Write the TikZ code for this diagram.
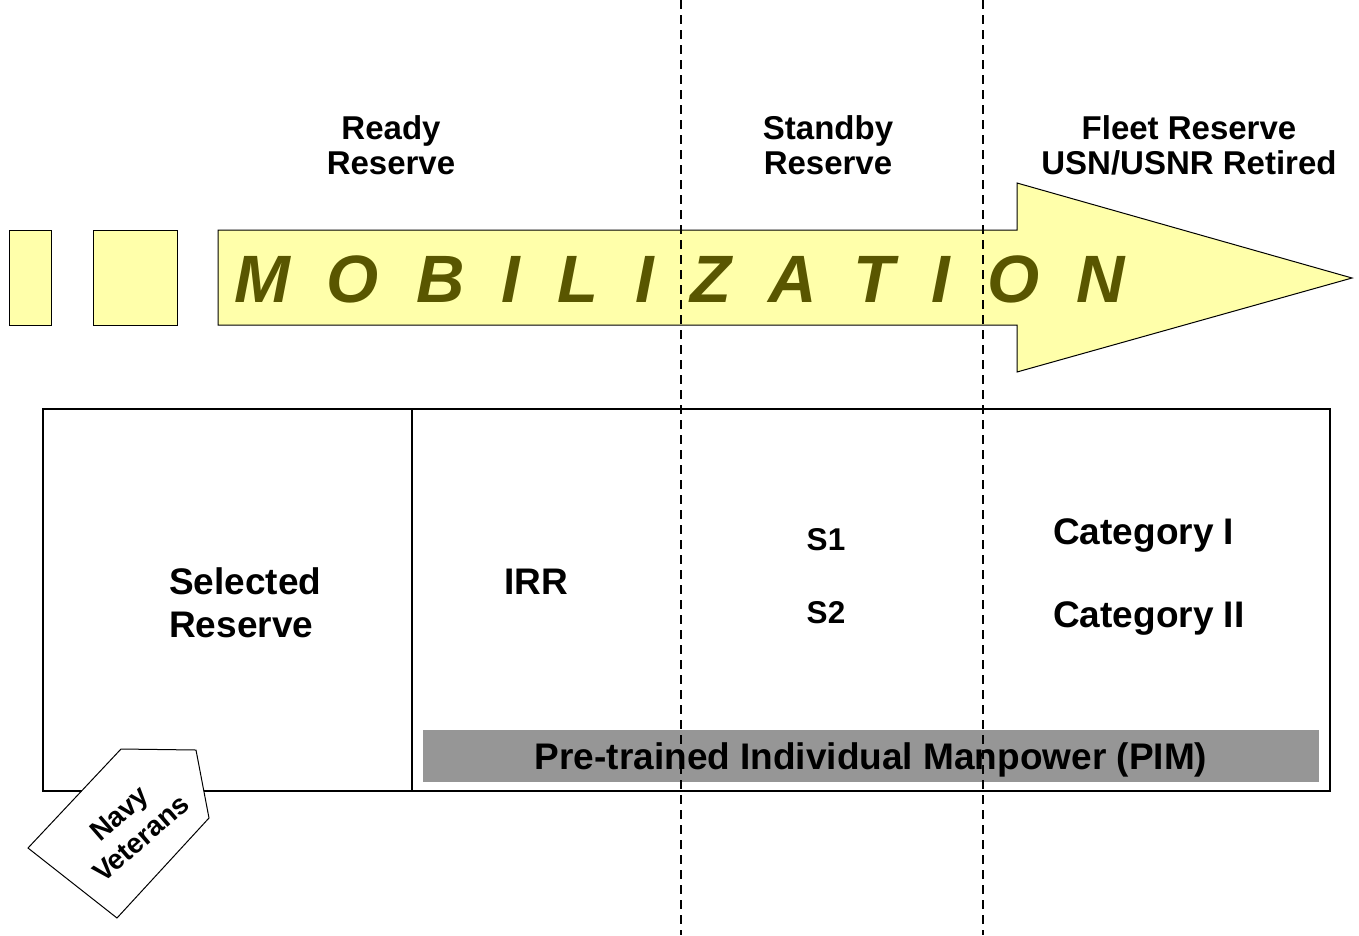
\documentclass[tikz,border=0pt]{standalone}
\usepackage{fontspec}
\setmainfont{Liberation Sans}
\definecolor{mobfill}{RGB}{255,255,170}
\definecolor{mobtext}{RGB}{89,86,0}
\definecolor{pimgray}{RGB}{150,150,150}
\newcommand{\mobspace}{\spaceskip=37pt\relax}
\tikzset{
  hdr/.style={font=\fontsize{33}{35}\selectfont\bfseries, align=center, inner sep=0pt},
  lbl/.style={font=\fontsize{37}{43}\selectfont\bfseries, inner sep=0pt},
  slbl/.style={font=\fontsize{31.5}{35}\selectfont\bfseries, inner sep=0pt},
  yel/.style={fill=mobfill, draw=black, line width=1pt},
  divider/.style={draw=black, line width=2.4pt, dash pattern=on 9pt off 6pt},
  frame/.style={draw=black, line width=1.3pt}
}
\begin{document}
\begin{tikzpicture}[x=1pt,y=-1pt]
\useasboundingbox (0,0) rectangle (1359,935);
% yellow blocks
\draw[yel] (9,230) rectangle (51,325);
\draw[yel] (93,230) rectangle (177,325);
\draw[yel] (218,230) -- (1017,230) -- (1017,183) -- (1352,278) -- (1017,372) -- (1017,325) -- (218,325) -- cycle;
\node[anchor=base west, inner sep=0pt, text=mobtext, font=\fontsize{67}{67}\selectfont\bfseries\itshape] (mob) at (234,302) {\mobspace M O B I L I Z A T I O N};
% headers
\node[hdr] (ready) at (391,145) {Ready\\Reserve};
\node[hdr] (standby) at (828,145) {Standby\\Reserve};
\node[hdr] (fleet) at (1189,145) {Fleet Reserve\\USN/USNR Retired};
% lower box
\draw[frame] (43,409) rectangle (1330,791);
\draw[frame] (412,409) -- (412,791);
\fill[pimgray] (423,730) rectangle (1319,782);
\node[lbl] (pim) at (871,760) {Pre-trained Individual Manpower (PIM)};
\node[lbl, align=left, anchor=west] (sel) at (169,603) {Selected\\Reserve};
\node[lbl] (irr) at (536,582) {IRR};
\node[slbl] (s1) at (826,540) {S1};
\node[slbl] (s2) at (826,613) {S2};
\node[lbl, anchor=west] (cat1) at (1053,535) {Category I};
\node[lbl, anchor=west] (cat2) at (1053,618) {Category II};
% tag
\draw[fill=white, draw=black, line width=1pt] (121,749) -- (196,750) -- (209,818) -- (117,918) -- (28,848) -- cycle;
\node[font=\fontsize{28}{33}\selectfont\bfseries, align=center, inner sep=0pt, rotate=41] (navy) at (130,826) {Navy\\Veterans};
% dashed dividers
\coordinate (d1t) at (681,0);
\coordinate (d1b) at (681,935);
\coordinate (d2t) at (983,0);
\coordinate (d2b) at (983,935);
\draw[divider] (d1t) -- (d1b);
\draw[divider] (d2t) -- (d2b);
\end{tikzpicture}
\end{document}
